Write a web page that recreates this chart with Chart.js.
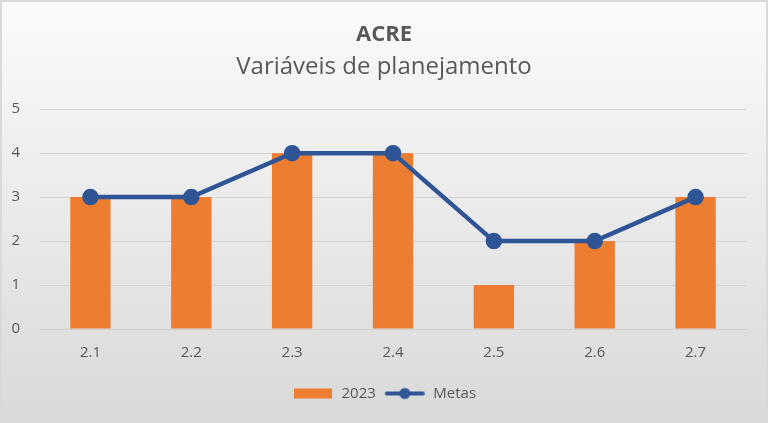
<!DOCTYPE html>
<html><head><meta charset="utf-8">
<script src="https://cdn.jsdelivr.net/npm/chart.js@4"></script>
<style>
html,body{margin:0;padding:0;background:#fff}
#wrap{position:absolute;left:0;top:0;width:764px;height:419px;border:2px solid #d9d9d9;background:linear-gradient(#fbfbfb,#d9d9d9)}
canvas{display:block}
</style></head><body>
<div id="wrap"><canvas id="c" width="764" height="419"></canvas></div>
<script>
const categories = ["2.1","2.2","2.3","2.4","2.5","2.6","2.7"];
const values2023 = [3,3,4,4,1,2,3];
const metas = [3,3,4,4,2,2,3];
const yTicks = [0,1,2,3,4,5];

const ORANGE = "#ED7D31", BLUE = "#2F5597", TXT = "#595959";
function mkIcon(kind){
  const c=document.createElement('canvas'); c.width=42; c.height=14;
  const x=c.getContext('2d');
  if(kind==='bar'){x.fillStyle=ORANGE; x.fillRect(2,2,38,10);}
  else{x.strokeStyle=BLUE;x.lineWidth=4;x.lineCap='round';x.beginPath();x.moveTo(3,7);x.lineTo(39,7);x.stroke();
       x.fillStyle=BLUE;x.beginPath();x.arc(21,7,5.5,0,Math.PI*2);x.fill();}
  return c;
}
const icons=[mkIcon('bar'),mkIcon('line')];
Chart.defaults.font.family="'Open Sans', sans-serif";
Chart.defaults.color=TXT;
new Chart(document.getElementById('c'),{
  data:{labels:categories,datasets:[
    {type:'line',label:'Metas',data:metas,borderColor:BLUE,backgroundColor:BLUE,borderWidth:4.5,pointRadius:6,pointHoverRadius:6,order:0},
    {type:'bar',label:'2023',data:values2023,backgroundColor:ORANGE,categoryPercentage:1,barPercentage:0.4,order:1}
  ]},
  options:{responsive:false,animation:false,
    layout:{padding:{left:20,right:20,top:10,bottom:10}},
    plugins:{
      title:{display:true,text:'ACRE',color:TXT,font:{size:22,weight:'bold'},padding:{top:10,bottom:4}},
      subtitle:{display:true,text:'Variáveis de planejamento',color:TXT,font:{size:24},padding:{top:0,bottom:28}},
      legend:{position:'bottom',labels:{usePointStyle:true,pointStyleWidth:42,color:TXT,font:{size:15},padding:8,boxHeight:14,
        generateLabels:(ch)=>[
          {text:'2023',pointStyle:icons[0],fillStyle:ORANGE,strokeStyle:ORANGE,lineWidth:0,datasetIndex:1,fontColor:TXT},
          {text:'Metas',pointStyle:icons[1],fillStyle:BLUE,strokeStyle:BLUE,lineWidth:0,datasetIndex:0,fontColor:TXT}
        ]}},
      tooltip:{enabled:false}
    },
    scales:{
      x:{grid:{display:false,drawTicks:false},border:{display:true,color:'#d0d0d0'},ticks:{color:TXT,font:{size:15},padding:15},
         afterFit:(s)=>{s.height+=1;}},
      y:{min:0,max:5,grid:{color:'#d3d3d3',drawTicks:false},border:{display:false},
         afterBuildTicks:(s)=>{s.ticks=yTicks.map(v=>({value:v}));},
         afterFit:(s)=>{s.width=18; s._computeLabelArea=()=>undefined;},
         ticks:{color:TXT,font:{size:15},padding:20}}
    }
  }
});
</script></body></html>
